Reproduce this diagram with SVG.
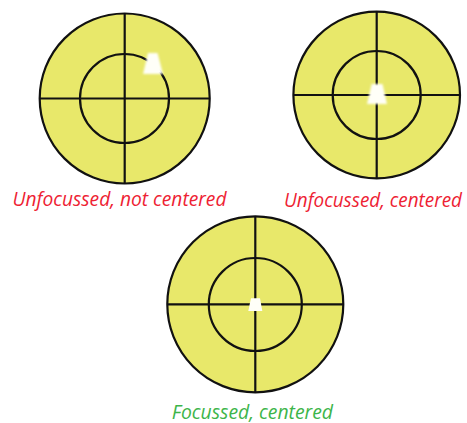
<svg xmlns="http://www.w3.org/2000/svg" width="467" height="423" viewBox="0 0 467 423">
<defs>
<filter id="blur" x="-50%" y="-50%" width="200%" height="200%"><feGaussianBlur stdDeviation="1.3"/></filter>
</defs>
<style>
.disc{fill:#e8e86a;stroke:#111;stroke-width:2.2}
.ring{fill:none;stroke:#111;stroke-width:2.2}
.hair{stroke:#111;stroke-width:2.2}
.spot{fill:#fffff8}
.lbl{font-family:"Open Sans","Liberation Sans",sans-serif;font-style:italic;font-size:20px}
.red{fill:#ee2233}
.green{fill:#3db54a}
</style>
<rect width="467" height="423" fill="#ffffff"/>
<g id="target-1">
<circle class="disc" cx="124.7" cy="98.5" r="85"/>
<circle class="ring" cx="124.5" cy="98.5" r="44.5"/>
<line class="hair" x1="124.7" y1="13.5" x2="124.7" y2="183.5"/>
<line class="hair" x1="39.7" y1="98.5" x2="209.7" y2="98.5"/>
<polygon class="spot" filter="url(#blur)" points="148,53 157.5,53 163,74 143,74"/>
<text class="lbl red" x="12.5" y="205.7" textLength="214" lengthAdjust="spacingAndGlyphs">Unfocussed,  not centered</text>
</g>
<g id="target-2">
<circle class="disc" cx="376.7" cy="95" r="83.3"/>
<circle class="ring" cx="376.7" cy="95" r="44"/>
<line class="hair" x1="376.7" y1="11.7" x2="376.7" y2="178.3"/>
<line class="hair" x1="293.4" y1="95" x2="460" y2="95"/>
<polygon class="spot" filter="url(#blur)" points="371.7,84 382.5,84 387,104 367,104"/>
<text class="lbl red" x="373" y="206.7" text-anchor="middle" style="font-size:19.5px" textLength="178" lengthAdjust="spacingAndGlyphs">Unfocussed, centered</text>
</g>
<g id="target-3">
<circle class="disc" cx="255.3" cy="304.3" r="88"/>
<circle class="ring" cx="255.3" cy="304.5" r="46.5"/>
<line class="hair" x1="255.3" y1="216.3" x2="255.3" y2="392.3"/>
<line class="hair" x1="167.3" y1="304.3" x2="343.3" y2="304.3"/>
<polygon class="spot" points="251,298.3 260,298.3 262.3,311 248.3,311"/>
<text class="lbl green" x="171.7" y="418.5" textLength="161.3" lengthAdjust="spacingAndGlyphs">Focussed,  centered</text>
</g>
</svg>
